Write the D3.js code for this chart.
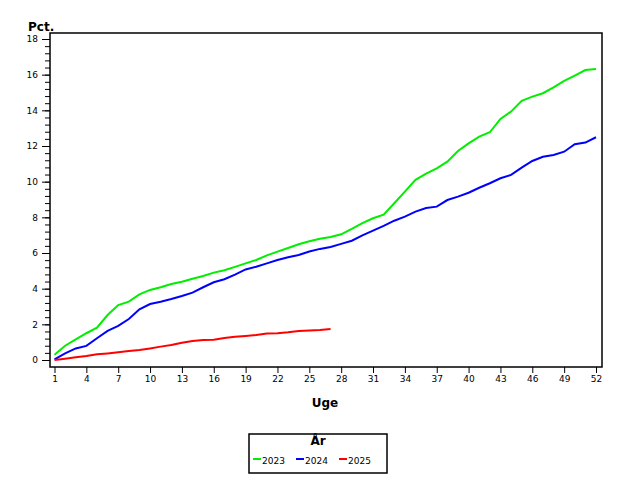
<!DOCTYPE html>
<html>
<head>
<meta charset="utf-8">
<script src="https://cdn.jsdelivr.net/npm/d3@7"></script>
<style>
  body { margin: 0; background: white; }
  svg { display: block; }
</style>
</head>
<body>
<svg></svg>
<script>

var weeks = d3.range(1, 53);

// andel i pct. pr. uge
var v2023 = [0.3, 0.8, 1.16, 1.5, 1.81, 2.52, 3.08, 3.27, 3.68, 3.93,
             4.08, 4.26, 4.39, 4.56, 4.71, 4.9, 5.03, 5.22, 5.42, 5.61,
             5.87, 6.08, 6.28, 6.49, 6.66, 6.8, 6.9, 7.05, 7.35, 7.67,
             7.95, 8.15, 8.79, 9.44, 10.1, 10.45, 10.75, 11.12, 11.72, 12.15,
             12.53, 12.77, 13.52, 13.93, 14.53, 14.77, 14.96, 15.29, 15.65, 15.95,
             16.26, 16.32];
var v2024 = [0.04, 0.37, 0.65, 0.79, 1.22, 1.63, 1.91, 2.3, 2.84, 3.14,
             3.27, 3.42, 3.59, 3.78, 4.08, 4.36, 4.53, 4.79, 5.08, 5.23,
             5.42, 5.61, 5.76, 5.89, 6.08, 6.23, 6.34, 6.51, 6.69, 6.99,
             7.25, 7.52, 7.81, 8.04, 8.32, 8.52, 8.6, 8.97, 9.16, 9.38,
             9.66, 9.91, 10.19, 10.38, 10.79, 11.16, 11.4, 11.5, 11.68, 12.1,
             12.19, 12.49];
var v2025 = [0.0, 0.07, 0.15, 0.22, 0.32, 0.37, 0.43, 0.5, 0.56, 0.65,
             0.75, 0.84, 0.97, 1.07, 1.12, 1.14, 1.23, 1.31, 1.35, 1.4,
             1.48, 1.5, 1.55, 1.63, 1.65, 1.68, 1.74];

var seriesNames = ["2023", "2024", "2025"];
var seriesColors = ["#00ee00", "#0000ff", "#ff0000"];
var xTicks = d3.range(1, 53, 3);
var yTicks = d3.range(0, 19, 2);
var yMinor = d3.range(0, 18.01, 0.4);

var width = 640, height = 480;
var font = "'DejaVu Sans', sans-serif";

var svg = d3.select("svg")
    .attr("width", width)
    .attr("height", height);

svg.append("rect")
    .attr("width", width)
    .attr("height", height)
    .attr("fill", "white");

var xScale = d3.scaleLinear().domain([1, 52]).range([54.5, 596]);
var yScale = d3.scaleLinear().domain([0, 18]).range([360, 39]);

// ramme
svg.append("rect")
    .attr("x", 50).attr("y", 33)
    .attr("width", 552).attr("height", 334)
    .attr("fill", "none")
    .attr("stroke", "black")
    .attr("stroke-width", 1.5);

// y akse, små streger
svg.append("g")
    .attr("transform", "translate(50,0)")
    .call(d3.axisLeft(yScale).tickValues(yMinor).tickSize(5).tickFormat(""))
    .call(g => g.select(".domain").remove());

// y akse, store streger
svg.append("g")
    .attr("transform", "translate(50,0)")
    .call(d3.axisLeft(yScale).tickValues(yTicks).tickSize(8).tickPadding(4))
    .call(g => g.select(".domain").remove())
    .call(g => g.selectAll("text").attr("font-family", font).attr("font-size", 9).attr("fill", "black"));

// x akse
svg.append("g")
    .attr("transform", "translate(0,367)")
    .call(d3.axisBottom(xScale).tickValues(xTicks).tickSize(6).tickPadding(3))
    .call(g => g.select(".domain").remove())
    .call(g => g.selectAll("text").attr("font-family", font).attr("font-size", 9).attr("fill", "black"));

var line = d3.line()
    .x((d, i) => xScale(weeks[i]))
    .y(d => yScale(d));

[v2023, v2024, v2025].forEach(function(vals, k){
    svg.append("path")
        .datum(vals)
        .attr("d", line)
        .attr("fill", "none")
        .attr("stroke", seriesColors[k])
        .attr("stroke-width", 2);
});

// titler
svg.append("text")
    .attr("x", 28).attr("y", 31)
    .attr("font-family", font).attr("font-size", 12).attr("font-weight", "bold")
    .text("Pct.");

svg.append("text")
    .attr("x", 325).attr("y", 407)
    .attr("text-anchor", "middle")
    .attr("font-family", font).attr("font-size", 12).attr("font-weight", "bold")
    .text("Uge");

// legende
var legend = svg.append("g");
legend.append("rect")
    .attr("x", 249).attr("y", 434)
    .attr("width", 138).attr("height", 39)
    .attr("fill", "white")
    .attr("stroke", "black")
    .attr("stroke-width", 1.5);

legend.append("text")
    .attr("x", 318).attr("y", 445)
    .attr("text-anchor", "middle")
    .attr("font-family", font).attr("font-size", 12).attr("font-weight", "bold")
    .text("År");

seriesNames.forEach(function(name, k){
    var x0 = 253 + k * 43;
    legend.append("line")
        .attr("x1", x0).attr("x2", x0 + 8)
        .attr("y1", 459).attr("y2", 459)
        .attr("stroke", seriesColors[k])
        .attr("stroke-width", 2);
    legend.append("text")
        .attr("x", x0 + 9).attr("y", 464)
        .attr("font-family", font).attr("font-size", 9)
        .text(name);
});

</script>
</body>
</html>
